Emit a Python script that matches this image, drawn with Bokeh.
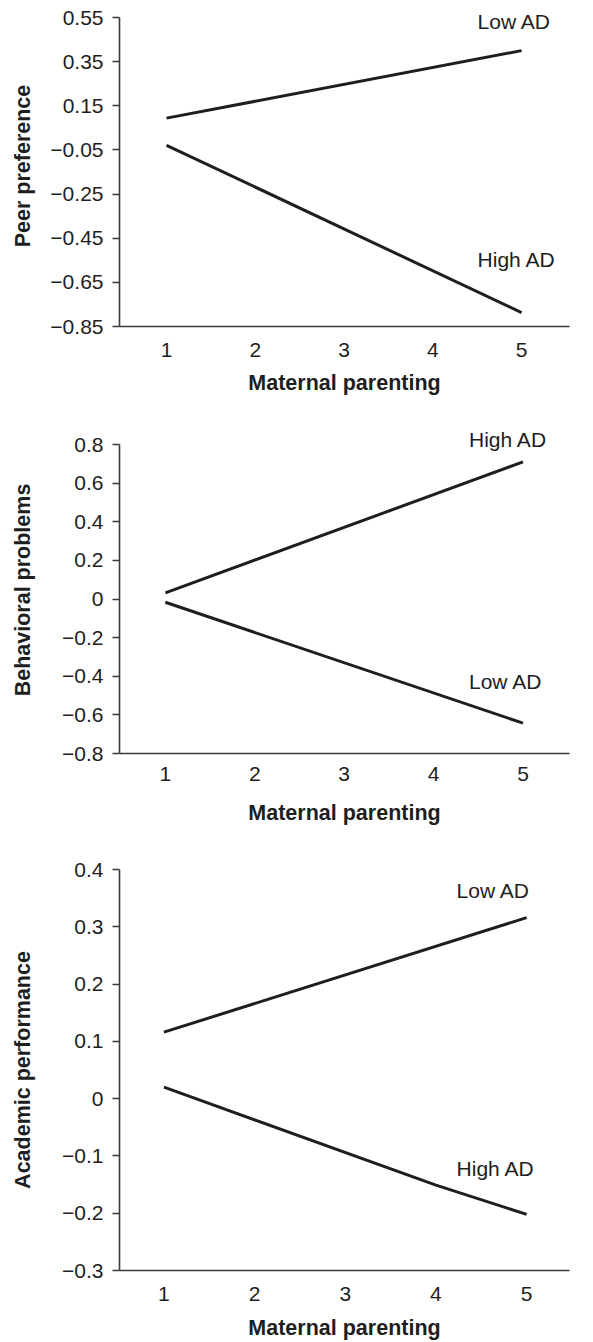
from bokeh.plotting import figure
from bokeh.layouts import column
from bokeh.models import FixedTicker, Range1d, CustomJSTickFormatter, Label
from bokeh.embed import file_html
from bokeh.resources import INLINE

# ---------------- data ----------------
x_ticks = [1, 2, 3, 4, 5]
x_tick_labels = ["1", "2", "3", "4", "5"]
x_title = "Maternal parenting"

# Panel 1: Peer preference
peer_low_x = [1, 5]
peer_low_y = [0.094, 0.400]
peer_high_x = [1, 5]
peer_high_y = [-0.029, -0.787]
peer_ticks = [0.55, 0.35, 0.15, -0.05, -0.25, -0.45, -0.65, -0.85]
peer_tick_labels = ["0.55", "0.35", "0.15", "\u22120.05", "\u22120.25",
                    "\u22120.45", "\u22120.65", "\u22120.85"]

# Panel 2: Behavioral problems
beh_high_x = [1, 5]
beh_high_y = [0.032, 0.710]
beh_low_x = [1, 5]
beh_low_y = [-0.017, -0.643]
beh_ticks = [0.8, 0.6, 0.4, 0.2, 0.0, -0.2, -0.4, -0.6, -0.8]
beh_tick_labels = ["0.8", "0.6", "0.4", "0.2", "0", "\u22120.2", "\u22120.4",
                   "\u22120.6", "\u22120.8"]

# Panel 3: Academic performance
acad_low_x = [1, 5]
acad_low_y = [0.116, 0.316]
acad_high_x = [1, 4, 5]
acad_high_y = [0.020, -0.151, -0.202]
acad_ticks = [0.4, 0.3, 0.2, 0.1, 0.0, -0.1, -0.2, -0.3]
acad_tick_labels = ["0.4", "0.3", "0.2", "0.1", "0", "\u22120.1", "\u22120.2",
                    "\u22120.3"]

series_names = ["Low AD", "High AD"]

FONT = "Liberation Sans"
INK = "#1e1e1e"
AXIS = "#3a3a3a"


def make_panel(ytitle, ticks, tick_labels, xr, yr, top_pad, lines, height, b_top,
               b_bot, b_right, x_std, xl_std, yl_std):
    p = figure(width=593, height=height, output_backend="svg",
               toolbar_location=None, x_range=Range1d(*xr),
               y_range=Range1d(yr[0], yr[1] + top_pad),
               min_border_left=119, min_border_right=b_right,
               min_border_top=b_top, min_border_bottom=b_bot)
    p.outline_line_color = None
    p.grid.visible = False
    p.background_fill_color = "white"
    p.border_fill_color = "white"

    for ax in (p.xaxis[0], p.yaxis[0]):
        ax.axis_line_color = AXIS
        ax.axis_line_width = 1.6
        ax.major_tick_line_color = AXIS
        ax.major_tick_line_width = 1.6
        ax.minor_tick_line_color = None
        ax.major_label_text_font = FONT
        ax.major_label_text_font_size = "21px"
        ax.major_label_text_color = INK
        ax.axis_label_text_font = FONT
        ax.axis_label_text_font_size = "21.5px"
        ax.axis_label_text_font_style = "bold"
        ax.axis_label_text_color = INK

    xa = p.xaxis[0]
    xa.ticker = FixedTicker(ticks=x_ticks)
    xa.formatter = CustomJSTickFormatter(args=dict(t=x_ticks, l=x_tick_labels), code="""
        for (let i = 0; i < t.length; i++) { if (Math.abs(t[i] - tick) < 1e-9) return l[i]; }
        return '';""")
    xa.major_tick_out = 0
    xa.major_tick_in = 0
    xa.major_label_standoff = x_std
    xa.axis_label = x_title
    xa.axis_label_standoff = xl_std

    ya = p.yaxis[0]
    ya.ticker = FixedTicker(ticks=ticks)
    ya.formatter = CustomJSTickFormatter(args=dict(t=ticks, l=tick_labels), code="""
        for (let i = 0; i < t.length; i++) { if (Math.abs(t[i] - tick) < 1e-9) return l[i]; }
        return '';""")
    ya.bounds = (yr[0], yr[1])
    ya.major_tick_out = 7
    ya.major_tick_in = 0
    ya.major_label_standoff = 9
    ya.axis_label = ytitle
    ya.axis_label_standoff = yl_std

    for xs, ys, name, dx, dy in lines:
        p.line(xs, ys, line_color=INK, line_width=3)
        # label anchored at the series' last point, shifted in screen pixels
        p.add_layout(Label(x=xs[-1], y=ys[-1], text=name, x_offset=dx, y_offset=dy,
                           text_font=FONT, text_font_size="21px", text_color=INK,
                           text_align="left", text_baseline="middle"))
    return p


p1 = make_panel("Peer preference", peer_ticks, peer_tick_labels,
                (0.47, 5.54), (-0.85, 0.55), 12 / 220.7,
                [(peer_low_x, peer_low_y, series_names[0], -44, 29),
                 (peer_high_x, peer_high_y, series_names[1], -44, 53)],
                height=424, b_top=5, b_bot=98, b_right=24,
                x_std=16, xl_std=11, yl_std=12)

p2 = make_panel("Behavioral problems", beh_ticks, beh_tick_labels,
                (0.487, 5.52), (-0.8, 0.8), 18 / 193.1,
                [(beh_high_x, beh_high_y, series_names[1], -54, 22),
                 (beh_low_x, beh_low_y, series_names[0], -54, 42)],
                height=429, b_top=2, b_bot=100, b_right=12,
                x_std=13, xl_std=17, yl_std=24)

p3 = make_panel("Academic performance", acad_ticks, acad_tick_labels,
                (0.51, 5.473), (-0.3, 0.4), 0.0,
                [(acad_low_x, acad_low_y, series_names[0], -70, 27),
                 (acad_high_x, acad_high_y, series_names[1], -70, 46)],
                height=489, b_top=16, b_bot=70, b_right=0,
                x_std=16, xl_std=12, yl_std=24)

layout = column(p1, p2, p3, spacing=0)
open("out.html", "w").write(file_html(layout, INLINE))
